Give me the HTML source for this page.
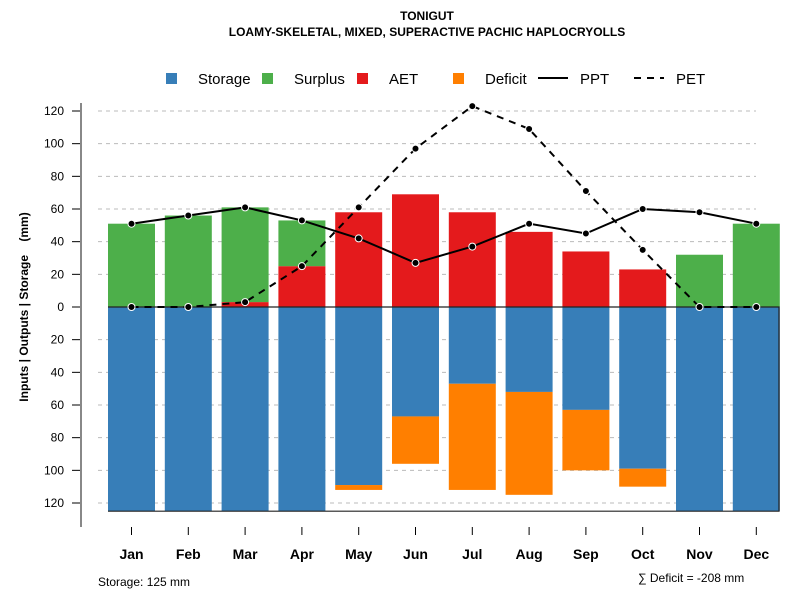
<!DOCTYPE html>
<html><head><meta charset="utf-8"><style>
body{margin:0;background:#fff;font-family:"Liberation Sans",sans-serif}
</style></head><body>
<svg id="c" width="800" height="600" xmlns="http://www.w3.org/2000/svg" font-family="Liberation Sans, sans-serif">
<text x="427" y="20" text-anchor="middle" font-size="12" font-weight="bold">TONIGUT</text>
<text x="427" y="36" text-anchor="middle" font-size="12" font-weight="bold">LOAMY-SKELETAL, MIXED, SUPERACTIVE PACHIC HAPLOCRYOLLS</text>
<g id="legend" font-size="15">
<rect x="166" y="73" width="11" height="11" fill="#377EB8"/><text x="198" y="84">Storage</text>
<rect x="262" y="73" width="11" height="11" fill="#4DAF4A"/><text x="294" y="84">Surplus</text>
<rect x="357" y="73" width="11" height="11" fill="#E41A1C"/><text x="389" y="84">AET</text>
<rect x="453" y="73" width="11" height="11" fill="#FF7F00"/><text x="485" y="84">Deficit</text>
<line x1="538" y1="78" x2="568" y2="78" stroke="#000" stroke-width="2"/><text x="580" y="84">PPT</text>
<line x1="634" y1="78" x2="664" y2="78" stroke="#000" stroke-width="2" stroke-dasharray="7,6"/><text x="676" y="84">PET</text>
</g>
<g id="grid"></g><g id="bars"></g><g id="lines"></g><g id="axes"></g>
<text transform="translate(28,307) rotate(-90)" text-anchor="middle" font-size="12" font-weight="bold">Inputs | Outputs | Storage&#160;&#160;&#160;&#160;(mm)</text>
<text x="98" y="586" font-size="12">Storage: 125 mm</text>
<text x="638" y="582" font-size="12">∑ Deficit = -208 mm</text>
</svg>
<script>
const months=["Jan","Feb","Mar","Apr","May","Jun","Jul","Aug","Sep","Oct","Nov","Dec"];
const ppt=[51,56,61,53,42,27,37,51,45,60,58,51];
const pet=[0,0,3,25,61,97,123,109,71,35,0,0];
const aet=[0,0,3,25,58,69,58,46,34,23,0,0];
const surplus=[51,56,58,28,0,0,0,0,0,0,32,51];
const storage=[125,125,125,125,109,67,47,52,63,99,125,125];
const deficit=[0,0,0,0,3,29,65,63,37,11,0,0];
const yTicks=[120,100,80,60,40,20,0,20,40,60,80,100,120];
const yVals=[120,100,80,60,40,20,0,-20,-40,-60,-80,-100,-120];
const NS="http://www.w3.org/2000/svg";
const y=v=>307-v*196/120;
const xc=i=>131.5+i*56.8;
const bw=47;
function mk(p,t,a){const e=document.createElementNS(NS,t);for(const k in a)e.setAttribute(k,a[k]);document.getElementById(p).appendChild(e);return e;}
yVals.forEach((v,i)=>{
 if(v!==0){const g=mk('grid','line',{x1:98,x2:756,y1:y(v),y2:y(v),stroke:'#bbb','stroke-dasharray':'4,4'});
 
 }
 const t=mk('axes','line',{x1:72,x2:81,y1:y(v),y2:y(v),stroke:'#000'});
 
 
 const l=mk('axes','text',{x:64,y:y(v)+4,'text-anchor':'end','font-size':12});l.textContent=yTicks[i];
 
 
});
const ax=mk('axes','line',{x1:81,x2:81,y1:103,y2:527,stroke:'#888','stroke-width':2});


months.forEach((m,i)=>{
 const x0=xc(i)-bw/2;
 const s=mk('bars','rect',{x:x0,y:y(0),width:bw,height:y(-storage[i])-y(0),fill:'#377EB8'});
 
 
 if(deficit[i]>0){const d=mk('bars','rect',{x:x0,y:y(-storage[i]),width:bw,height:deficit[i]*196/120,fill:'#FF7F00'});
 
 }
 if(aet[i]>0){const a=mk('bars','rect',{x:x0,y:y(aet[i]),width:bw,height:aet[i]*196/120,fill:'#E41A1C'});
 
 }
 if(surplus[i]>0){const u=mk('bars','rect',{x:x0,y:y(aet[i]+surplus[i]),width:bw,height:surplus[i]*196/120,fill:'#4DAF4A'});
 
 }
 const t=mk('axes','line',{x1:xc(i),x2:xc(i),y1:527,y2:535,stroke:'#000'});
 
 
 const l=mk('axes','text',{x:xc(i),y:559,'text-anchor':'middle','font-size':14,'font-weight':'bold'});l.textContent=m;
 
 
});
const bl=mk('bars','path',{d:`M108,${y(0)}H779V${y(-125)}H108`,fill:'none',stroke:'#222','stroke-width':1.2});


function series(arr,dash,name){
 const p=mk('lines','polyline',{points:arr.map((v,i)=>xc(i)+','+y(v)).join(' '),fill:'none',stroke:'#000','stroke-width':2,'stroke-dasharray':dash});
 
 
 arr.forEach((v,i)=>{const c=mk('lines','circle',{cx:xc(i),cy:y(v),r:3.5,fill:'#000',stroke:'#fff','stroke-width':1});
 
 });
}
series(pet,'7,6','pet');
series(ppt,'none','ppt');
</script>
</body></html>
